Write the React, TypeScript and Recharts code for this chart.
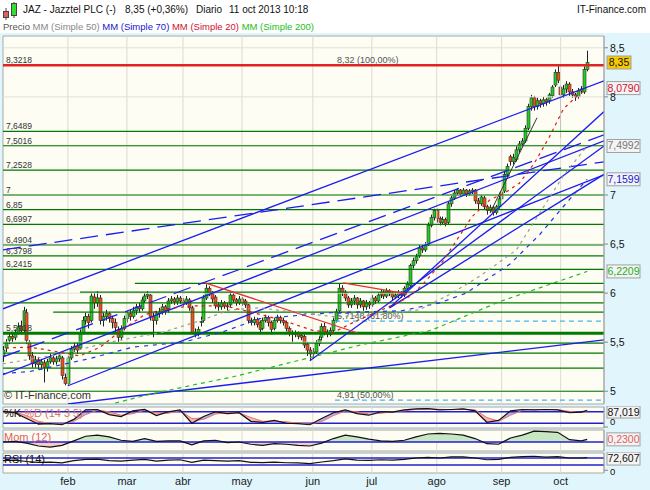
import React from 'react'
import {
  ComposedChart,
  Bar,
  Line,
  Area,
  XAxis,
  YAxis,
  CartesianGrid,
  ReferenceLine,
  ReferenceArea,
} from 'recharts'

// one candle per trading day, 2 jan - 11 oct 2013 (index = trading day)
const opens = [
  5.36, 5.44, 5.52, 5.56, 5.55, 5.6, 5.66, 5.62, 5.8, 5.5,
  5.36, 5.28, 5.32, 5.27, 5.29, 5.24, 5.3, 5.34, 5.3, 5.33,
  5.34, 5.14, 5.08, 5.34, 5.43, 5.46, 5.44, 5.6, 5.72, 5.76,
  5.72, 5.96, 5.9, 5.95, 5.72, 5.76, 5.79, 5.74, 5.7, 5.63,
  5.55, 5.64, 5.74, 5.79, 5.76, 5.82, 5.86, 5.84, 5.92, 5.97,
  5.98, 5.76, 5.72, 5.79, 5.81, 5.86, 5.83, 5.92, 5.94, 5.91,
  5.95, 5.92, 5.9, 5.93, 5.85, 5.6, 5.58, 5.7, 5.72, 5.95,
  6.05, 6.0, 5.96, 5.88, 5.86, 5.9, 5.87, 5.88, 5.98, 5.93,
  5.9, 5.94, 5.92, 5.88, 5.72, 5.7, 5.73, 5.7, 5.64, 5.72,
  5.75, 5.7, 5.64, 5.72, 5.75, 5.72, 5.7, 5.64, 5.59, 5.58,
  5.59, 5.57, 5.56, 5.48, 5.42, 5.38, 5.4, 5.49, 5.55, 5.66,
  5.6, 5.58, 5.62, 5.72, 5.82, 6.05, 6.01, 5.95, 5.88, 5.92,
  5.95, 5.88, 5.92, 5.86, 5.9, 5.88, 5.95, 5.92, 5.98, 6.01,
  5.97, 6.02, 6.0, 5.96, 5.98, 6.0, 5.98, 6.05, 6.08, 6.28,
  6.33, 6.38, 6.46, 6.44, 6.49, 6.69, 6.77, 6.84, 6.76, 6.72,
  6.75, 6.72, 6.91, 6.97, 7.02, 7.05, 7.01, 7.05, 7.01, 7.04,
  7.05, 6.94, 6.91, 6.97, 6.88, 6.84, 6.87, 6.82, 6.88, 6.96,
  7.04, 7.21, 7.39, 7.34, 7.36, 7.46, 7.52, 7.55, 7.68, 7.9,
  7.99, 7.9, 7.96, 7.93, 7.97, 7.96, 8.01, 8.12, 8.25, 8.1,
  8.02, 8.08, 8.13, 8.05, 8.02, 8.0, 8.06, 8.05, 8.28,
]
const highs = [
  5.46, 5.53, 5.6, 5.6, 5.63, 5.7, 5.72, 5.86, 5.84, 5.52,
  5.4, 5.36, 5.35, 5.33, 5.32, 5.33, 5.38, 5.37, 5.36, 5.4,
  5.36, 5.18, 5.36, 5.46, 5.5, 5.5, 5.63, 5.76, 5.8, 5.79,
  6.0, 6.0, 6.02, 5.98, 5.8, 5.83, 5.81, 5.77, 5.74, 5.66,
  5.67, 5.77, 5.82, 5.83, 5.86, 5.89, 5.9, 5.96, 6.0, 6.02,
  5.99, 5.8, 5.82, 5.85, 5.89, 5.88, 5.95, 5.97, 5.96, 5.98,
  5.97, 5.95, 5.97, 5.95, 5.87, 5.64, 5.66, 5.76, 5.98, 6.09,
  6.07, 6.02, 5.98, 5.91, 5.93, 5.92, 5.9, 6.01, 6.0, 5.95,
  5.97, 5.96, 5.94, 5.89, 5.75, 5.76, 5.75, 5.72, 5.75, 5.78,
  5.77, 5.72, 5.75, 5.78, 5.77, 5.75, 5.72, 5.66, 5.62, 5.62,
  5.61, 5.6, 5.58, 5.5, 5.45, 5.44, 5.52, 5.56, 5.69, 5.7,
  5.63, 5.65, 5.75, 5.84, 6.1, 6.08, 6.03, 5.97, 5.95, 5.98,
  5.96, 5.95, 5.93, 5.93, 5.92, 5.98, 5.97, 6.01, 6.04, 6.03,
  6.05, 6.04, 6.02, 6.01, 6.03, 6.02, 6.07, 6.12, 6.3, 6.36,
  6.4, 6.49, 6.49, 6.52, 6.72, 6.8, 6.86, 6.86, 6.78, 6.78,
  6.77, 6.93, 6.99, 7.05, 7.07, 7.06, 7.07, 7.06, 7.06, 7.07,
  7.06, 6.97, 7.0, 6.99, 6.9, 6.9, 6.89, 6.9, 6.99, 7.06,
  7.24, 7.32, 7.41, 7.42, 7.5, 7.55, 7.58, 7.71, 7.93, 8.02,
  8.01, 7.99, 7.98, 8.0, 7.99, 8.04, 8.12, 8.28, 8.33, 8.12,
  8.12, 8.16, 8.15, 8.08, 8.04, 8.09, 8.11, 8.31, 8.47,
]
const lows = [
  5.3, 5.4, 5.48, 5.5, 5.52, 5.58, 5.58, 5.6, 5.48, 5.32,
  5.24, 5.24, 5.22, 5.22, 5.09, 5.2, 5.28, 5.27, 5.27, 5.3,
  5.12, 5.06, 5.06, 5.32, 5.4, 5.38, 5.42, 5.58, 5.68, 5.64,
  5.7, 5.84, 5.86, 5.68, 5.66, 5.72, 5.7, 5.64, 5.6, 5.5,
  5.52, 5.62, 5.7, 5.72, 5.74, 5.78, 5.8, 5.82, 5.9, 5.94,
  5.72, 5.55, 5.68, 5.75, 5.78, 5.78, 5.8, 5.89, 5.88, 5.88,
  5.89, 5.86, 5.88, 5.82, 5.58, 5.55, 5.56, 5.66, 5.7, 5.93,
  5.97, 5.9, 5.84, 5.82, 5.83, 5.84, 5.82, 5.86, 5.9, 5.87,
  5.88, 5.87, 5.85, 5.69, 5.67, 5.67, 5.65, 5.6, 5.62, 5.7,
  5.66, 5.58, 5.62, 5.7, 5.69, 5.67, 5.61, 5.56, 5.5, 5.55,
  5.53, 5.52, 5.44, 5.36, 5.31, 5.33, 5.38, 5.46, 5.52, 5.57,
  5.55, 5.56, 5.6, 5.7, 5.8, 5.97, 5.92, 5.85, 5.85, 5.88,
  5.84, 5.85, 5.82, 5.83, 5.84, 5.86, 5.89, 5.9, 5.95, 5.94,
  5.95, 5.97, 5.93, 5.94, 5.95, 5.95, 5.96, 6.03, 6.06, 6.25,
  6.3, 6.36, 6.41, 6.42, 6.48, 6.67, 6.74, 6.72, 6.69, 6.7,
  6.68, 6.7, 6.88, 6.95, 7.0, 6.99, 6.99, 6.98, 6.99, 7.01,
  6.91, 6.85, 6.89, 6.85, 6.8, 6.82, 6.79, 6.8, 6.86, 6.94,
  7.02, 7.18, 7.3, 7.31, 7.34, 7.43, 7.49, 7.53, 7.66, 7.86,
  7.86, 7.87, 7.89, 7.9, 7.91, 7.93, 7.99, 8.1, 8.14, 7.58,
  7.99, 8.04, 8.01, 7.99, 7.96, 7.98, 8.03, 8.03, 8.26,
]
const closes = [
  5.42, 5.5, 5.56, 5.54, 5.6, 5.66, 5.62, 5.82, 5.52, 5.36,
  5.28, 5.32, 5.27, 5.3, 5.24, 5.3, 5.34, 5.3, 5.33, 5.36,
  5.16, 5.08, 5.34, 5.43, 5.46, 5.42, 5.6, 5.72, 5.76, 5.7,
  5.97, 5.9, 5.95, 5.72, 5.76, 5.79, 5.74, 5.7, 5.65, 5.55,
  5.64, 5.74, 5.79, 5.76, 5.82, 5.86, 5.84, 5.93, 5.97, 5.99,
  5.76, 5.72, 5.79, 5.81, 5.86, 5.82, 5.92, 5.94, 5.91, 5.95,
  5.92, 5.9, 5.94, 5.85, 5.6, 5.58, 5.63, 5.71, 5.95, 6.05,
  6.0, 5.94, 5.87, 5.86, 5.9, 5.87, 5.86, 5.98, 5.93, 5.9,
  5.94, 5.9, 5.88, 5.72, 5.7, 5.73, 5.68, 5.63, 5.72, 5.75,
  5.7, 5.63, 5.72, 5.75, 5.72, 5.7, 5.64, 5.59, 5.58, 5.59,
  5.56, 5.55, 5.47, 5.42, 5.38, 5.4, 5.49, 5.53, 5.66, 5.6,
  5.58, 5.62, 5.72, 5.81, 6.05, 6.01, 5.95, 5.88, 5.92, 5.95,
  5.88, 5.92, 5.86, 5.9, 5.88, 5.95, 5.92, 5.98, 6.01, 5.97,
  6.02, 6.0, 5.96, 5.98, 6.0, 5.98, 6.05, 6.09, 6.28, 6.33,
  6.37, 6.46, 6.44, 6.49, 6.69, 6.77, 6.84, 6.76, 6.72, 6.75,
  6.71, 6.91, 6.97, 7.02, 7.05, 7.01, 7.05, 7.01, 7.04, 7.05,
  6.94, 6.91, 6.98, 6.88, 6.84, 6.87, 6.82, 6.88, 6.96, 7.03,
  7.21, 7.29, 7.34, 7.38, 7.46, 7.52, 7.55, 7.68, 7.9, 7.99,
  7.9, 7.96, 7.93, 7.97, 7.95, 8.02, 8.1, 8.25, 8.17, 8.02,
  8.08, 8.13, 8.05, 8.02, 8.0, 8.06, 8.08, 8.28, 8.35,
]

const monthTicks = [22, 42, 61, 81, 105, 125, 147, 169, 189]
const monthNames = ['feb', 'mar', 'abr', 'may', 'jun', 'jul', 'ago', 'sep', 'oct']
const priceTicks = [5, 5.5, 6, 6.5, 7, 8, 8.5]
const gridPrices = [5, 5.5, 6, 6.5, 7, 7.5, 8, 8.5]

// moving averages at a few days
const sma20Days = [1, 9, 19, 26, 33, 40, 48, 55, 65, 75, 85, 95, 105, 112, 120, 130, 137, 142, 149, 154, 159, 165, 170, 175, 180, 185, 190, 195, 198]
const sma20Vals = [5.44, 5.45, 5.4, 5.36, 5.45, 5.62, 5.78, 5.84, 5.87, 5.87, 5.8, 5.72, 5.62, 5.6, 5.72, 5.85, 5.95, 6.08, 6.32, 6.55, 6.78, 6.95, 7.02, 7.12, 7.32, 7.58, 7.88, 8.02, 8.079]
const sma50Days = [0, 20, 36, 54, 67, 77, 87, 100, 112, 128, 141, 151, 162, 174, 182, 190, 198]
const sma50Vals = [5.28, 5.38, 5.5, 5.6, 5.72, 5.83, 5.85, 5.8, 5.76, 5.78, 5.83, 5.98, 6.18, 6.44, 6.82, 7.2, 7.4992]
const sma70Days = [0, 9, 29, 44, 61, 74, 87, 111, 135, 148, 157, 172, 182, 189, 198]
const sma70Vals = [5.18, 5.2, 5.33, 5.45, 5.5, 5.6, 5.74, 5.8, 5.82, 5.9, 6.0, 6.3, 6.6, 6.85, 7.1599]
const sma200Days = [38, 50, 67, 77, 105, 121, 145, 169, 198]
const sma200Vals = [4.88, 4.97, 5.08, 5.14, 5.35, 5.47, 5.62, 5.92, 6.2209]

// horizontal support / resistance levels
const levelValues = [7.6489, 7.5016, 7.2528, 7, 6.85, 6.6997, 6.4904, 6.3798, 6.2415, 6.1, 6.01, 5.9, 5.806, 5.5918, 5.49, 5.388, 5.235, 5.0]
const levelStarts = [0, 0, 0, 0, 0, 0, 0, 0, 0, 44.7, 26.1, 0, 17, 0, 0, 0, 0, 0]
const levelLabels = ['7,6489', '7,5016', '7,2528', '7', '6,85', '6,6997', '6,4904', '6,3798', '6,2415', '', '', '', '', '5,5918', '', '', '', '']

// fibonacci
const fibValues = [8.3218, 5.7148, 4.91]
const fibLabels = ['8,32 (100,00%)', '5,7148 (61,80%)', '4,91 (50,00%)']
const fibStart = 112.5

// drawn trend lines [day1, price1, day2, price2]
const blueSolid = [
  [0, 5.84, 203.7, 8.164],
  [0, 5.168, 203.7, 7.552],
  [22, 5.056, 203.7, 7.206],
  [22, 4.87, 203.7, 5.524],
  [104, 5.31, 203.7, 7.5],
  [131, 5.85, 203.7, 7.85],
  [131, 5.85, 203.7, 7.21],
]
const blueDashed = [
  [0, 6.441, 203.7, 7.338],
  [0, 5.351, 203.7, 7.613],
]
const redLines = [
  [68.5, 6.105, 120, 5.596],
  [115.3, 6.105, 137, 5.993],
]
const blackLines = [[165.1, 6.819, 181, 7.787]]

// indicators, sampled every 4 days
const oscDays = [0, 4, 8, 12, 16, 20, 24, 28, 32, 36, 40, 44, 48, 52, 56, 60, 64, 68, 72, 76, 80, 84, 88, 92, 96, 100, 104, 108, 112, 116, 120, 124, 128, 132, 136, 140, 144, 148, 152, 156, 160, 164, 168, 172, 176, 180, 184, 188, 192, 196, 198]
const stochK = [82, 75, 45, 15, 18, 12, 40, 90, 92, 65, 55, 85, 92, 60, 80, 90, 20, 55, 80, 70, 75, 30, 25, 35, 20, 18, 12, 45, 75, 90, 70, 62, 80, 78, 90, 95, 96, 90, 92, 95, 85, 25, 35, 85, 92, 90, 92, 90, 75, 78, 87.019]
const stochD = [80, 80, 60, 30, 18, 16, 30, 65, 88, 80, 62, 70, 88, 75, 72, 86, 45, 40, 68, 76, 74, 50, 30, 30, 28, 20, 16, 28, 60, 84, 80, 68, 72, 80, 85, 92, 95, 93, 91, 93, 90, 50, 30, 62, 88, 91, 91, 91, 82, 76, 80]
const momentum = [0, 0.05, -0.1, -0.35, -0.45, -0.3, 0.1, 0.5, 0.6, 0.45, 0.15, 0.05, 0.3, 0.05, 0.1, 0.1, -0.25, 0.1, 0.15, -0.05, 0, -0.2, -0.3, -0.15, -0.2, -0.3, -0.35, -0.1, 0.3, 0.6, 0.45, 0.25, 0.1, 0.05, 0.15, 0.45, 0.7, 0.75, 0.7, 0.6, 0.3, -0.15, -0.2, 0.35, 0.6, 0.95, 0.9, 0.85, 0.2, 0.1, 0.23]
const rsi = [55, 58, 50, 45, 46, 42, 55, 62, 64, 55, 52, 58, 62, 52, 58, 60, 45, 58, 55, 52, 55, 45, 44, 47, 43, 42, 38, 47, 55, 65, 58, 56, 60, 58, 62, 70, 74, 70, 76, 77, 70, 60, 62, 74, 78, 80, 75, 78, 70, 70, 72.607]

const X_MAX = 203.7
const FONT = '"Liberation Sans", Arial, sans-serif'

const rows: any[] = closes.map((c, i) => ({
  i,
  o: opens[i],
  h: highs[i],
  l: lows[i],
  c,
  range: [lows[i], highs[i]],
}))
sma20Days.forEach((d, j) => (rows[d].sma20 = sma20Vals[j]))
sma50Days.forEach((d, j) => (rows[d].sma50 = sma50Vals[j]))
sma70Days.forEach((d, j) => (rows[d].sma70 = sma70Vals[j]))
sma200Days.forEach((d, j) => (rows[d].sma200 = sma200Vals[j]))

const oscRows = oscDays.map((d, j) => {
  const k = stochK[j]
  const dd = stochD[j]
  const m = momentum[j]
  return {
    i: d,
    k,
    d: dd,
    up: k >= dd ? [dd, k] : [k, k],
    down: k < dd ? [k, dd] : [k, k],
    mom: m,
    momPos: [0, Math.max(m, 0)],
    momNeg: [Math.min(m, 0), 0],
    rsi: rsi[j],
  }
})

function Candle(props: any) {
  const { x, y, width, height, payload } = props
  if (!payload || x == null || y == null) return null
  const top = Math.min(y, y + height)
  const h = Math.abs(height)
  const span = payload.h - payload.l || 1
  const py = (v: number) => top + ((payload.h - v) / span) * h
  const cx = Math.round(x + width / 2) + 0.5
  const up = payload.c >= payload.o
  const yo = py(payload.o)
  const yc = py(payload.c)
  const bt = Math.min(yo, yc)
  const bh = Math.max(Math.abs(yo - yc), 1)
  return (
    <g>
      <line x1={cx} x2={cx} y1={top} y2={top + h} stroke="#222" strokeWidth={1} />
      <rect
        x={cx - 1.5}
        y={bt}
        width={3}
        height={bh}
        fill={up ? '#22cc22' : '#f0501e'}
        stroke="#333"
        strokeWidth={0.6}
      />
    </g>
  )
}

const lineLabel = (text: string, dx = 3, size = 8.5, color = '#333') => (props: any) => {
  const vb = props.viewBox
  if (!vb || !text) return null
  return (
    <text x={vb.x + dx} y={vb.y - 2} fontSize={size} fill={color} fontFamily={FONT}>
      {text}
    </text>
  )
}

// value box drawn at the right of the plot, dy shifts it to stay inside a thin panel
const valueBox = (text: string, color: string, bg = '#f4f4f4', w = 33, dy = 0, bh = 13) => (props: any) => {
  const vb = props.viewBox
  if (!vb) return null
  const x = vb.x + vb.width + 3
  const cy = vb.y + dy
  return (
    <g>
      <rect x={x} y={cy - bh / 2} width={w} height={bh} fill={bg} stroke="#a0a0a0" />
      <text x={x + w / 2} y={cy + 3.5} textAnchor="middle" fontSize={10.5} fill={color} fontFamily={FONT}>
        {text}
      </text>
    </g>
  )
}

const fmt = (v: number) => String(v).replace('.', ',')

export default function App() {
  const monthLines = monthTicks.map((m) => (
    <ReferenceLine key={'m' + m} x={m} stroke="#dedbd0" strokeWidth={1} />
  ))
  return (
    <div
      style={{
        position: 'absolute',
        left: 0,
        top: 0,
        width: 650,
        height: 490,
        background: '#ffffff',
        fontFamily: FONT,
        overflow: 'hidden',
      }}
    >
      <div style={{ position: 'absolute', left: 0, top: 33, width: 650, height: 457, background: '#e0f6fc' }} />

      {/* header */}
      <svg width={16} height={20} style={{ position: 'absolute', left: 2, top: 1 }}>
        <line x1={4} x2={4} y1={7} y2={19} stroke="#444" />
        <rect x={1.5} y={10.5} width={5} height={6} fill="#e06060" stroke="#444" />
        <line x1={12} x2={12} y1={1} y2={17} stroke="#444" />
        <rect x={9.5} y={2.5} width={5} height={12} fill="#33dd33" stroke="#444" />
      </svg>
      <div style={{ position: 'absolute', left: 23, top: 4, fontSize: 10, color: '#111', whiteSpace: 'nowrap' }}>
        JAZ - Jazztel PLC (-)
      </div>
      <div style={{ position: 'absolute', left: 125, top: 4, fontSize: 10, color: '#111', whiteSpace: 'nowrap' }}>
        8,35 (+0,36%)
      </div>
      <div style={{ position: 'absolute', left: 196, top: 4, fontSize: 10, color: '#111', whiteSpace: 'nowrap' }}>
        Diario
      </div>
      <div style={{ position: 'absolute', left: 229, top: 4, fontSize: 10, color: '#111', whiteSpace: 'nowrap' }}>
        11 oct 2013 10:18
      </div>
      <div style={{ position: 'absolute', right: 4, top: 4, fontSize: 10, color: '#111', whiteSpace: 'nowrap' }}>
        IT-Finance.com
      </div>
      <div style={{ position: 'absolute', left: 3, top: 21, fontSize: 9.5, whiteSpace: 'nowrap' }}>
        <span style={{ color: '#555' }}>Precio </span>
        <span style={{ color: '#888' }}>MM (Simple 50) </span>
        <span style={{ color: '#1515d0' }}>MM (Simple 70) </span>
        <span style={{ color: '#d01030' }}>MM (Simple 20) </span>
        <span style={{ color: '#18c018' }}>MM (Simple 200)</span>
      </div>

      {/* main price panel */}
      <div style={{ position: 'absolute', left: 0, top: 35 }}>
        <ComposedChart width={650} height={370} data={rows} margin={{ top: 1, right: 0, bottom: 1, left: 3 }}>
          <CartesianGrid horizontal={false} vertical={false} fill="#fdfdf4" />
          <XAxis type="number" dataKey="i" domain={[0, X_MAX]} hide allowDataOverflow />
          <YAxis
            orientation="right"
            width={46}
            type="number"
            domain={[4.87, 8.62]}
            ticks={priceTicks}
            tickFormatter={fmt}
            allowDataOverflow
            tick={{ fontSize: 10.5, fill: '#111', fontFamily: FONT }}
            tickSize={4}
            tickLine={{ stroke: '#888' }}
            axisLine={{ stroke: '#a8a8a8' }}
          />
          {monthLines}
          {gridPrices.map((p) => (
            <ReferenceLine key={'g' + p} y={p} stroke="#e3e1d6" strokeWidth={1} />
          ))}

          {levelValues.map((v, j) =>
            levelStarts[j] > 0 ? (
              <ReferenceLine
                key={'lv' + j}
                segment={[{ x: levelStarts[j], y: v }, { x: X_MAX, y: v }]}
                stroke="#007a00"
                strokeWidth={1.2}
                ifOverflow="hidden"
              />
            ) : (
              <ReferenceLine
                key={'lv' + j}
                y={v}
                stroke="#007a00"
                strokeWidth={j === 13 ? 3 : 1.2}
                label={lineLabel(levelLabels[j])}
              />
            )
          )}

          <ReferenceLine y={fibValues[0]} stroke="#e02424" strokeWidth={2.5} label={lineLabel('8,3218')} />
          {fibValues.map((v, j) => (
            <ReferenceLine
              key={'fib' + j}
              segment={[{ x: fibStart, y: v }, { x: X_MAX, y: v }]}
              stroke={j === 0 ? 'none' : '#45b4f0'}
              strokeDasharray="5 4"
              strokeWidth={1.2}
              ifOverflow="visible"
              label={lineLabel(fibLabels[j], 2, 9, '#555')}
            />
          ))}

          {blueSolid.map((s, j) => (
            <ReferenceLine
              key={'bs' + j}
              segment={[{ x: s[0], y: s[1] }, { x: s[2], y: s[3] }]}
              stroke="#1c1cf0"
              strokeWidth={1.3}
              ifOverflow="hidden"
            />
          ))}
          {blueDashed.map((s, j) => (
            <ReferenceLine
              key={'bd' + j}
              segment={[{ x: s[0], y: s[1] }, { x: s[2], y: s[3] }]}
              stroke="#1c1cf0"
              strokeWidth={1.3}
              strokeDasharray="18 8"
              ifOverflow="hidden"
            />
          ))}
          {redLines.map((s, j) => (
            <ReferenceLine
              key={'rl' + j}
              segment={[{ x: s[0], y: s[1] }, { x: s[2], y: s[3] }]}
              stroke="#e83030"
              strokeWidth={1.3}
              ifOverflow="hidden"
            />
          ))}
          {blackLines.map((s, j) => (
            <ReferenceLine
              key={'kl' + j}
              segment={[{ x: s[0], y: s[1] }, { x: s[2], y: s[3] }]}
              stroke="#333"
              strokeWidth={1}
              ifOverflow="hidden"
            />
          ))}

          <Line dataKey="sma200" stroke="#22bb22" strokeWidth={1.2} strokeDasharray="4 4" dot={false} connectNulls isAnimationActive={false} />
          <Line dataKey="sma70" stroke="#2233ee" strokeWidth={1.2} strokeDasharray="4 5" dot={false} connectNulls isAnimationActive={false} />
          <Line dataKey="sma50" stroke="#9a9a9a" strokeWidth={1.2} strokeDasharray="3 4" dot={false} connectNulls isAnimationActive={false} />
          <Line dataKey="sma20" stroke="#e01818" strokeWidth={1.2} strokeDasharray="3 4" dot={false} connectNulls isAnimationActive={false} />

          <Bar dataKey="range" barSize={3} shape={Candle} isAnimationActive={false} />

          <ReferenceArea x1={0} x2={X_MAX} y1={4.87} y2={8.62} fill="none" stroke="#a8a8a8" ifOverflow="visible" />

          <ReferenceLine y={6.2209} stroke="none" label={valueBox('6,2209', '#22b022')} />
          <ReferenceLine y={7.1599} stroke="none" label={valueBox('7,1599', '#1818d8')} />
          <ReferenceLine y={7.4992} stroke="none" label={valueBox('7,4992', '#777')} />
          <ReferenceLine y={8.079} stroke="none" label={valueBox('8,0790', '#d01030', '#f4f4f4', 33, -1)} />
          <ReferenceLine y={8.35} stroke="none" label={valueBox('8,35', '#111', '#f8c800', 24)} />
        </ComposedChart>
      </div>
      <div style={{ position: 'absolute', left: 4, top: 389, fontSize: 11, color: '#333', whiteSpace: 'nowrap' }}>
        © IT-Finance.com
      </div>

      {/* stochastic */}
      <div style={{ position: 'absolute', left: 0, top: 406 }}>
        <ComposedChart width={650} height={23} data={oscRows} margin={{ top: 1, right: 0, bottom: 1, left: 3 }}>
          <CartesianGrid horizontal={false} vertical={false} fill="#fdfdf4" />
          <XAxis type="number" dataKey="i" domain={[0, X_MAX]} hide allowDataOverflow />
          <YAxis
            orientation="right"
            width={46}
            type="number"
            domain={[-5, 105]}
            ticks={[0]}
            allowDataOverflow
            tick={{ fontSize: 9.5, fill: '#111', fontFamily: FONT, dy: -2 }}
            tickSize={4}
            tickLine={{ stroke: '#888' }}
            axisLine={{ stroke: '#a8a8a8' }}
          />
          {monthLines}
          <Area dataKey="up" stroke="none" fill="#9c9ce0" fillOpacity={0.8} isAnimationActive={false} />
          <Area dataKey="down" stroke="none" fill="#f4a0a0" fillOpacity={0.8} isAnimationActive={false} />
          <ReferenceLine y={80} stroke="#2020d0" strokeWidth={1.5} />
          <ReferenceLine y={20} stroke="#2020d0" strokeWidth={1.5} />
          <Line dataKey="d" stroke="#f07070" strokeWidth={1} dot={false} isAnimationActive={false} />
          <Line dataKey="k" stroke="#111" strokeWidth={1.2} dot={false} isAnimationActive={false} />
          <ReferenceArea x1={0} x2={X_MAX} y1={-5} y2={105} fill="none" stroke="#a8a8a8" ifOverflow="visible" />
          <ReferenceLine y={87.019} stroke="none" label={valueBox('87,019', '#111', '#f4f4f4', 33, 1.6, 12)} />
        </ComposedChart>
      </div>
      <div style={{ position: 'absolute', left: 4, top: 407, fontSize: 11, whiteSpace: 'nowrap' }}>
        <span style={{ color: '#111' }}>%K</span>
        <span style={{ color: '#e07070' }}> %D (14 3 5)</span>
      </div>

      {/* momentum */}
      <div style={{ position: 'absolute', left: 0, top: 429 }}>
        <ComposedChart width={650} height={23} data={oscRows} margin={{ top: 1, right: 0, bottom: 1, left: 3 }}>
          <CartesianGrid horizontal={false} vertical={false} fill="#fdfdf4" />
          <XAxis type="number" dataKey="i" domain={[0, X_MAX]} hide allowDataOverflow />
          <YAxis
            orientation="right"
            width={46}
            type="number"
            domain={[-0.79, 1.05]}
            ticks={[]}
            allowDataOverflow
            axisLine={{ stroke: '#a8a8a8' }}
          />
          {monthLines}
          <Area dataKey="momPos" stroke="none" fill="#a4d8a0" isAnimationActive={false} />
          <Area dataKey="momNeg" stroke="none" fill="#f4aaaa" isAnimationActive={false} />
          <ReferenceLine y={0} stroke="#2020d0" strokeWidth={1.5} />
          <Line dataKey="mom" stroke="#111" strokeWidth={1.2} dot={false} isAnimationActive={false} />
          <ReferenceArea x1={0} x2={X_MAX} y1={-0.79} y2={1.05} fill="none" stroke="#a8a8a8" ifOverflow="visible" />
          <ReferenceLine y={0.23} stroke="none" label={valueBox('0,2300', '#e06060')} />
        </ComposedChart>
      </div>
      <div style={{ position: 'absolute', left: 4, top: 431, fontSize: 11, color: '#e06060', whiteSpace: 'nowrap' }}>
        Mom (12)
      </div>

      {/* RSI + month axis */}
      <div style={{ position: 'absolute', left: 0, top: 452 }}>
        <ComposedChart width={650} height={38} data={oscRows} margin={{ top: 1, right: 0, bottom: 0, left: 3 }}>
          <CartesianGrid horizontal={false} vertical={false} fill="#fdfdf4" />
          <XAxis
            type="number"
            dataKey="i"
            domain={[0, X_MAX]}
            allowDataOverflow
            ticks={monthTicks}
            tickFormatter={(v: number) => monthNames[monthTicks.indexOf(v)] || ''}
            height={17}
            tickSize={2}
            tickLine={false}
            axisLine={false}
            tick={{ fontSize: 11, fill: '#222', fontFamily: FONT }}
          />
          <YAxis
            orientation="right"
            width={46}
            type="number"
            domain={[-15.7, 98.6]}
            ticks={[0]}
            allowDataOverflow
            tick={{ fontSize: 9.5, fill: '#111', fontFamily: FONT, dy: 1 }}
            tickSize={4}
            tickLine={{ stroke: '#888' }}
            axisLine={{ stroke: '#a8a8a8' }}
          />
          {monthLines}
          <ReferenceLine y={70} stroke="#2020d0" strokeWidth={1.5} />
          <ReferenceLine y={30} stroke="#2020d0" strokeWidth={1.5} />
          <Line dataKey="rsi" stroke="#111" strokeWidth={1.2} dot={false} isAnimationActive={false} />
          <ReferenceArea x1={0} x2={X_MAX} y1={-15.7} y2={98.6} fill="none" stroke="#a8a8a8" ifOverflow="visible" />
          <ReferenceLine y={72.607} stroke="none" label={valueBox('72,607', '#111', '#f4f4f4', 33, 1)} />
        </ComposedChart>
      </div>
      <div style={{ position: 'absolute', left: 4, top: 453, fontSize: 11, color: '#111', whiteSpace: 'nowrap' }}>
        RSI (14)
      </div>
    </div>
  )
}
